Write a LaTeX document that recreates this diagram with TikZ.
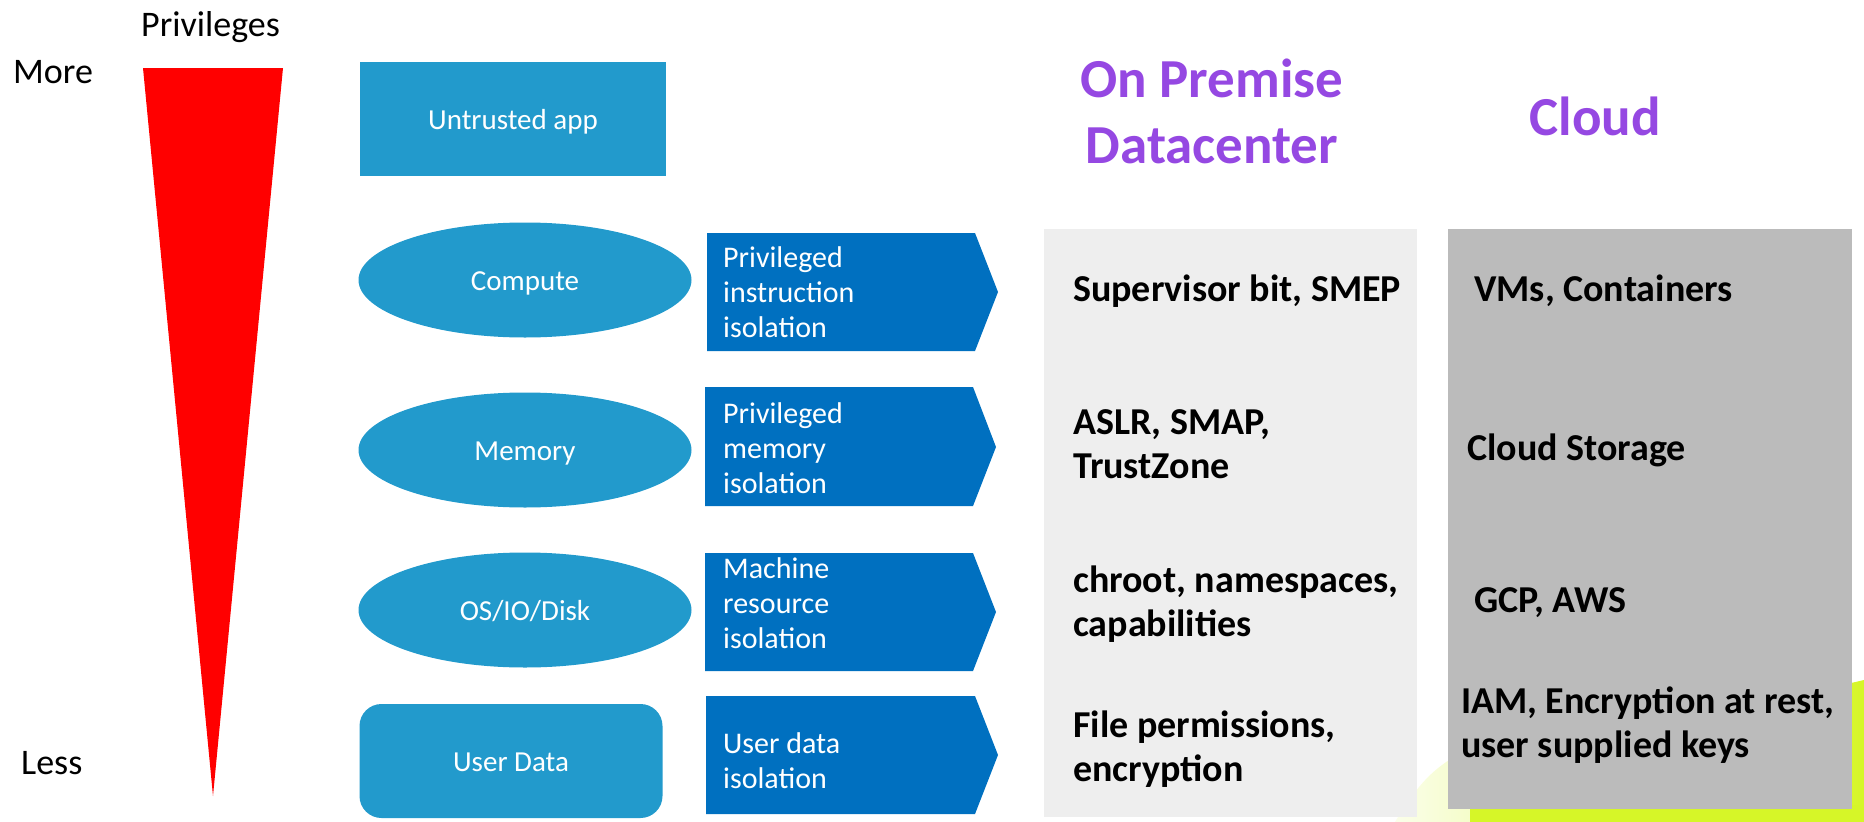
\documentclass[tikz,border=0pt]{standalone}
\usepackage{fontspec}
\setmainfont{Carlito}
\usetikzlibrary{shapes.geometric}
\definecolor{nodeblue}{RGB}{34,154,204}
\definecolor{arrowblue}{RGB}{0,112,192}
\definecolor{headpurple}{RGB}{149,72,226}
\definecolor{lightpanel}{RGB}{238,238,238}
\definecolor{darkpanel}{RGB}{187,187,187}
\definecolor{swooshgreen}{RGB}{214,246,40}
\tikzset{
  blueshape/.style={fill=nodeblue, draw=none, text=white, inner sep=0pt,
    text height=24pt, text depth=3pt, font=\fontsize{29}{35}\selectfont},
  arrowshape/.style={fill=arrowblue, draw=none},
  arrowtext/.style={text=white, font=\fontsize{30}{35}\selectfont, align=left,
    inner sep=0pt, anchor=base west},
  paneltext/.style={font=\bfseries\fontsize{38}{44}\selectfont, align=left,
    inner sep=0pt, anchor=base west},
  headtext/.style={text=headpurple, font=\bfseries\fontsize{55}{66}\selectfont,
    align=center, inner sep=0pt, anchor=base},
  sidetext/.style={font=\fontsize{36}{40}\selectfont, inner sep=0pt, anchor=base west},
}
\begin{document}
\begin{tikzpicture}[x=1pt,y=-1pt]
\useasboundingbox (0,0) rectangle (1864,822);
% background decoration
\shade[left color=swooshgreen!10, right color=swooshgreen, draw=none]
  (1395,822) .. controls (1420,780) and (1440,760) .. (1480,745)
  .. controls (1650,720) and (1780,700) .. (1864,680) -- (1864,822) -- cycle;
\fill[swooshgreen] (1470,805) rectangle (1864,822);
% left scale
\node[sidetext] (privileges) at (141,36) {Privileges};
\node[sidetext] (more) at (13,83) {More};
\node[sidetext] (less) at (21,774) {Less};
\fill[red] (143,68) -- (283,68) -- (213,796) -- cycle;
% components
\node[blueshape, rectangle, minimum width=306pt, minimum height=114pt] (app) at (513,119) {Untrusted app};
\node[blueshape, ellipse, minimum width=333pt, minimum height=115pt] (compute) at (525,280) {Compute};
\node[blueshape, ellipse, minimum width=333pt, minimum height=115pt] (memory) at (525,450) {Memory};
\node[blueshape, ellipse, minimum width=333pt, minimum height=115pt] (os) at (525,610) {OS/IO/Disk};
\node[blueshape, rectangle, rounded corners=22pt, minimum width=303pt, minimum height=114pt] (userdata) at (511,761) {User Data};
% isolation arrows
\fill[arrowshape] (707,233) -- (975,233) -- (998,292) -- (975,351) -- (707,351) -- cycle;
\fill[arrowshape] (705,387) -- (973,387) -- (996,447) -- (973,506) -- (705,506) -- cycle;
\fill[arrowshape] (705,553) -- (973,553) -- (996,612) -- (973,671) -- (705,671) -- cycle;
\fill[arrowshape] (706,696) -- (975,696) -- (998,755) -- (975,814) -- (706,814) -- cycle;
\node[arrowtext] (t1) at (723,337) {Privileged\\instruction\\isolation};
\node[arrowtext] (t2) at (723,493) {Privileged\\memory\\isolation};
\node[arrowtext] (t3) at (723,648) {Machine\\resource\\isolation};
\node[arrowtext] (t4) at (723,788) {User data\\isolation};
% headings
\node[headtext] (onprem) at (1212,163) {On Premise\\Datacenter};
\node[headtext] (cloud) at (1595,135) {Cloud};
% panels
\fill[lightpanel] (1044,229) rectangle (1417,817);
\fill[darkpanel] (1448,229) rectangle (1852,809);
\node[paneltext] (p1) at (1073,301) {Supervisor bit, SMEP};
\node[paneltext] (p2) at (1073,478) {ASLR, SMAP,\\TrustZone};
\node[paneltext] (p3) at (1073,636) {chroot, namespaces,\\capabilities};
\node[paneltext] (p4) at (1073,781) {File permissions,\\encryption};
\node[paneltext] (c1) at (1474,301) {VMs, Containers};
\node[paneltext] (c2) at (1467,460) {Cloud Storage};
\node[paneltext] (c3) at (1474,612) {GCP, AWS};
\node[paneltext] (c4) at (1461,757) {IAM, Encryption at rest,\\user supplied keys};
\end{tikzpicture}
\end{document}
